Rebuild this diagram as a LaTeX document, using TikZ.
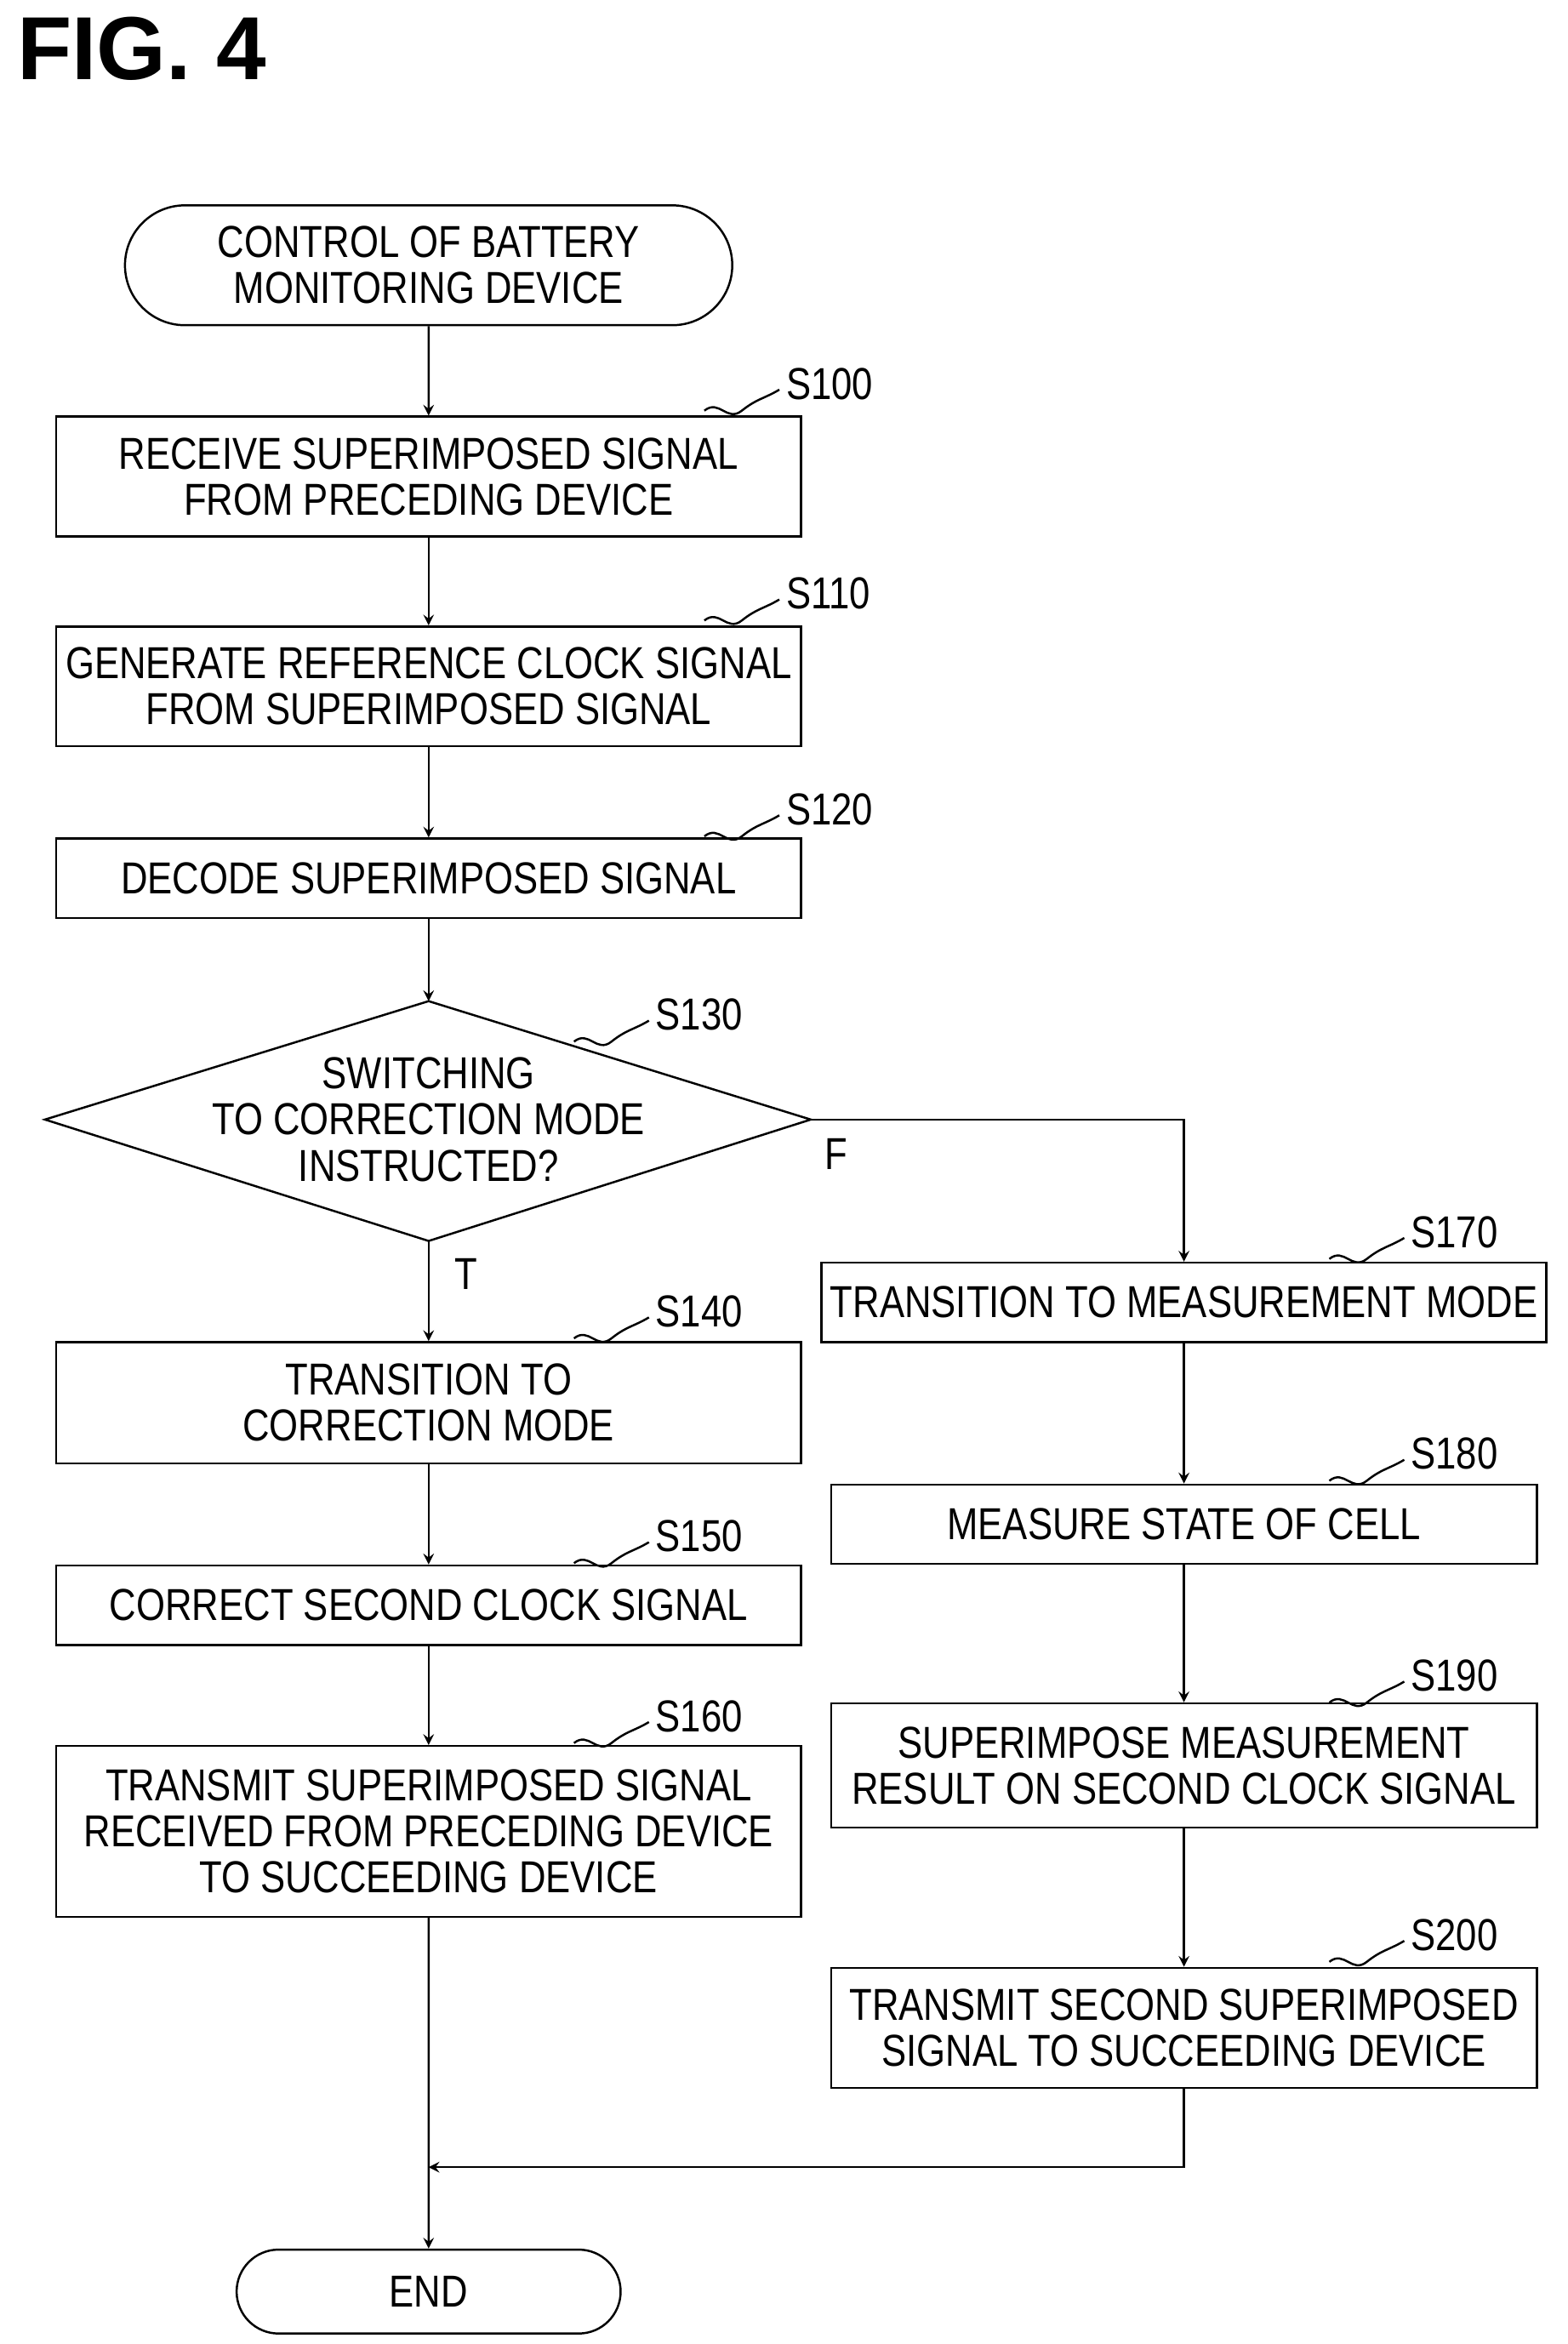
\documentclass[tikz,border=0pt]{standalone}
\usepackage{fontspec}
\setmainfont[FakeStretch=0.83]{Liberation Sans}
\newfontfamily\figfont{Liberation Sans}
\usetikzlibrary{shapes,arrows,calc}
\tikzset{
	proc/.style     = {draw, thick, rectangle, minimum width = 9.94cm, align = center,
		font = \fontsize{17}{17.5}\selectfont},
	term/.style     = {draw, thick, rounded rectangle, align = center,
		font = \fontsize{17}{17.5}\selectfont},
	test/.style     = {align = center, font = \fontsize{17}{17.5}\selectfont},
	lbl/.style      = {font = \fontsize{17}{20}\selectfont}
}
\newcommand{\steptag}[2]{% anchor point, label
	\draw[thick] (#1) .. controls +(10,-8) and +(-10,8) .. ++(25,0)
		.. controls +(10,-8) and +(-10,6) .. ++(25,-14);
	\node[lbl, right] at ($(#1)+(48,-18)$) {#2};
}
\begin{document}
\begin{tikzpicture}[x=0.02cm, y=-0.02cm, thick, >=stealth]
	\useasboundingbox (0,0) rectangle (1046,1564);
	\node[anchor=north west, font=\figfont\bfseries\fontsize{34}{38}\selectfont] (fig) at (5,5) {FIG. 4};
	
	\draw
	node at (286,177) [term, minimum width=8.34cm, minimum height=1.6cm] (start) {CONTROL OF BATTERY\\MONITORING DEVICE}
	node at (286,318) [proc, minimum height=1.6cm] (s100) {RECEIVE SUPERIMPOSED SIGNAL\\FROM PRECEDING DEVICE}
	node at (286,458) [proc, minimum height=1.6cm] (s110) {GENERATE REFERENCE CLOCK SIGNAL\\FROM SUPERIMPOSED SIGNAL}
	node at (286,586) [proc, minimum height=1.06cm] (s120) {DECODE SUPERIMPOSED SIGNAL}
	node at (286,747) [test] (s130) {SWITCHING\\TO CORRECTION MODE\\INSTRUCTED?}
	node at (286,936) [proc, minimum height=1.62cm] (s140) {TRANSITION TO\\CORRECTION MODE}
	node at (286,1071) [proc, minimum height=1.06cm] (s150) {CORRECT SECOND CLOCK SIGNAL}
	node at (286,1222) [proc, minimum height=2.28cm] (s160) {TRANSMIT SUPERIMPOSED SIGNAL\\RECEIVED FROM PRECEDING DEVICE\\TO SUCCEEDING DEVICE}
	node at (790,869) [proc, minimum width=9.42cm, minimum height=1.06cm] (s170) {TRANSITION TO MEASUREMENT MODE}
	node at (790,1017) [proc, minimum width=9.42cm, minimum height=1.06cm] (s180) {MEASURE STATE OF CELL}
	node at (790,1178) [proc, minimum width=9.42cm, minimum height=1.66cm] (s190) {SUPERIMPOSE MEASUREMENT\\RESULT ON SECOND CLOCK SIGNAL}
	node at (790,1353) [proc, minimum width=9.42cm, minimum height=1.6cm] (s200) {TRANSMIT SECOND SUPERIMPOSED\\SIGNAL TO SUCCEEDING DEVICE}
	node at (286,1529) [term, minimum width=5.36cm, minimum height=1.12cm] (end) {END};
	
	% decision outline
	\coordinate (dtop) at (286,668);
	\coordinate (dleft) at (30,747);
	\coordinate (dright) at (541,747);
	\coordinate (dbot) at (286,828);
	\draw (dtop) -- (dright) -- (dbot) -- (dleft) -- cycle;
	
	\coordinate (join) at (286,1446);
	\draw[->] (start) -- (s100);
	\draw[->] (s100) -- (s110);
	\draw[->] (s110) -- (s120);
	\draw[->] (s120) -- (dtop);
	\draw[->] (dbot) -- (s140);
	\node[lbl] (t) at (311,850) {T};
	\draw[->] (dright) -| (s170);
	\node[lbl] (f) at (558,770) {F};
	\draw[->] (s140) -- (s150);
	\draw[->] (s150) -- (s160);
	\draw[->] (s160) -- (end);
	\draw[->] (s170) -- (s180);
	\draw[->] (s180) -- (s190);
	\draw[->] (s190) -- (s200);
	\draw[->] (s200) |- (join);
	
	% step numbers
	\steptag{470,274}{S100}
	\steptag{470,414}{S110}
	\steptag{470,558}{S120}
	\steptag{383,695}{S130}
	\steptag{383,893}{S140}
	\steptag{383,1043}{S150}
	\steptag{383,1163}{S160}
	\steptag{887,840}{S170}
	\steptag{887,988}{S180}
	\steptag{887,1136}{S190}
	\steptag{887,1309}{S200}
\end{tikzpicture}
\end{document}
